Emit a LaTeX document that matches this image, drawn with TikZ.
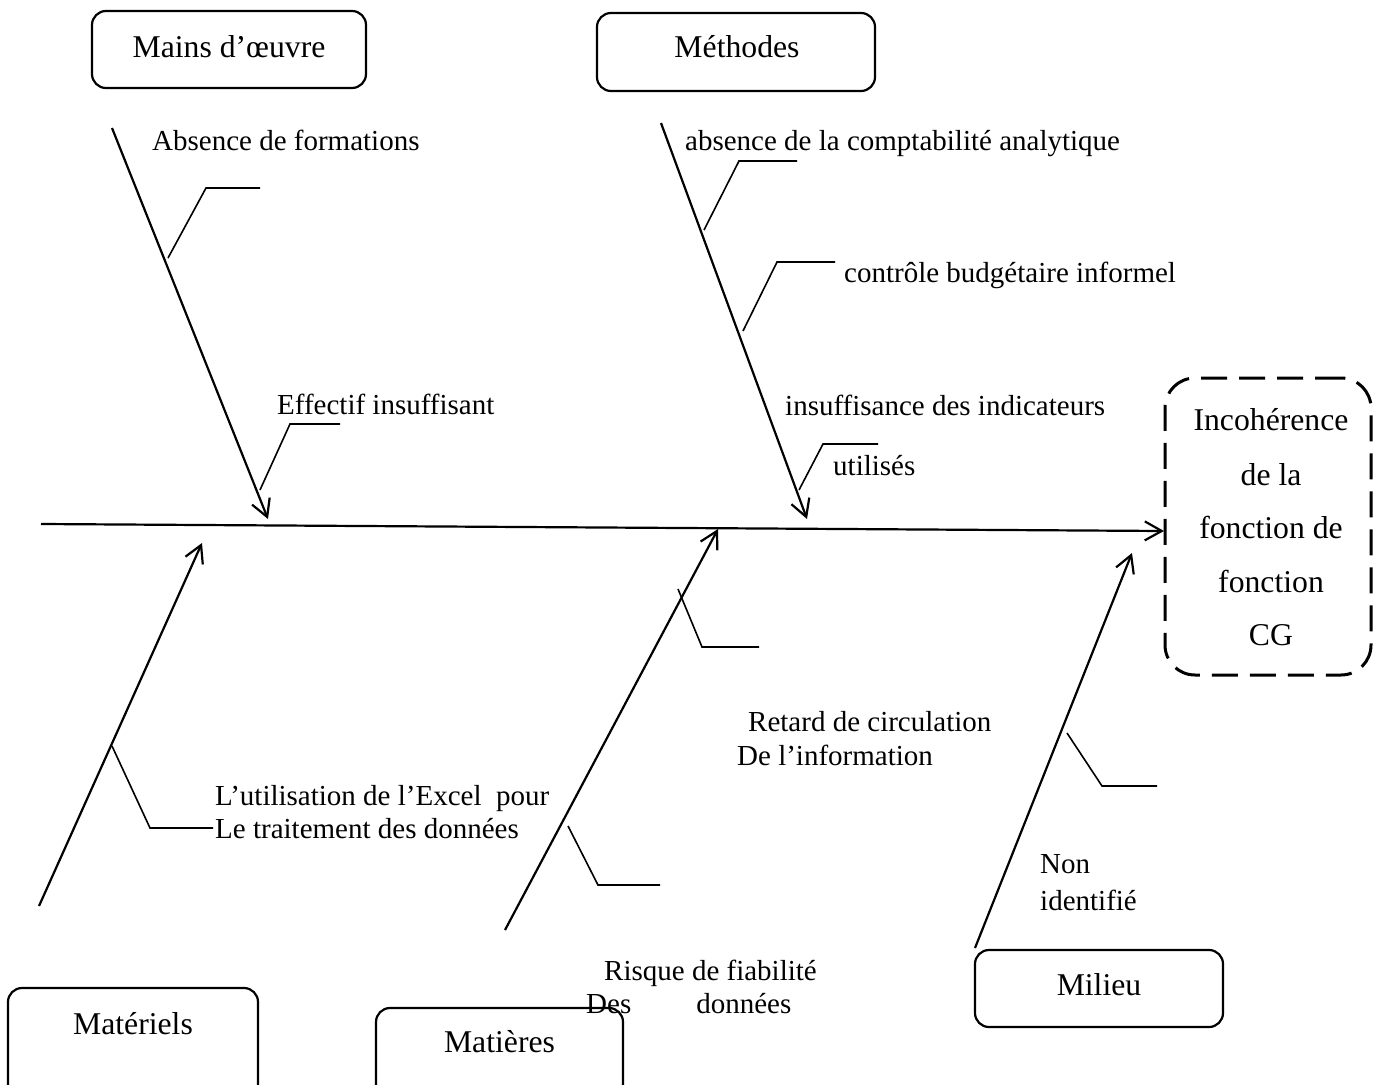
\documentclass[tikz,border=0pt]{standalone}
\usepackage{fontspec}
\setmainfont{Liberation Serif}
\usetikzlibrary{arrows.meta}
\begin{document}
\begin{tikzpicture}[x=1pt,y=-1pt,
  catbox/.style={draw,line width=2.2pt,rounded corners=14pt,inner sep=0pt},
  effectbox/.style={draw,line width=3pt,rounded corners=30pt,dash pattern=on 26pt off 12pt,inner sep=0pt},
  bone/.style={line width=2.2pt,-{Straight Barb[length=17pt,width=19pt,line width=2.2pt]}},
  twig/.style={line width=1.6pt},
  txt/.style={anchor=base west,inner sep=0pt,font=\fontsize{29}{35}\selectfont},
  ctxt/.style={anchor=base,inner sep=0pt,font=\fontsize{31.7}{38}\selectfont},
]
\useasboundingbox (0,0) rectangle (1373,1084);
\clip (0,0) rectangle (1373,1084);

% category boxes
\node[catbox,minimum width=274pt,minimum height=77pt] (mo) at (229,49.5) {};
\node[ctxt] (molbl) at (229,57) {Mains d’œuvre};
\node[catbox,minimum width=278pt,minimum height=78pt] (meth) at (736,52) {};
\node[ctxt] (methlbl) at (737,57) {Méthodes};
\node[catbox,minimum width=250pt,minimum height=124pt] (mat) at (133,1050) {};
\node[ctxt] (matlbl) at (133,1034) {Matériels};
\node[catbox,minimum width=247pt,minimum height=110pt] (mtr) at (499.5,1063) {};
\node[ctxt] (mtrlbl) at (499.5,1052) {Matières};
\node[catbox,minimum width=248pt,minimum height=77pt] (mil) at (1099,988.5) {};
\node[ctxt] (millbl) at (1099,995) {Milieu};

% effect box
\node[effectbox,minimum width=206pt,minimum height=297pt] (eff) at (1268,526.5) {};
\node[ctxt] (eff1) at (1271,430) {Incohérence};
\node[ctxt] (eff2) at (1271,485) {de la};
\node[ctxt] (eff3) at (1271,538) {fonction de};
\node[ctxt] (eff4) at (1271,592) {fonction};
\node[ctxt] (eff5) at (1271,645) {CG};

% spine
\coordinate (tail) at (41,524);
\coordinate (head) at (1164,531);
\draw[bone] (tail) -- (head);

% main bones
\coordinate (moA) at (112,128);   \coordinate (moB) at (268,519);
\coordinate (meA) at (661,123);   \coordinate (meB) at (807,519);
\coordinate (maA) at (39,906);    \coordinate (maB) at (202,543);
\coordinate (mtA) at (505,930);   \coordinate (mtB) at (718,529);
\coordinate (miA) at (975,948);   \coordinate (miB) at (1132,553);
\draw[bone] (moA) -- (moB);
\draw[bone] (meA) -- (meB);
\draw[bone] (maA) -- (maB);
\draw[bone] (mtA) -- (mtB);
\draw[bone] (miA) -- (miB);

% sub-causes
\draw[twig] (168,258) -- (206,188) -- (260,188);
\draw[twig] (260,490) -- (290,424) -- (340,424);
\draw[twig] (704,230) -- (739,161) -- (797,161);
\draw[twig] (743,331) -- (777,262) -- (835,262);
\draw[twig] (799,490) -- (823,444) -- (878,444);
\draw[twig] (112,746) -- (150,828) -- (213,828);
\draw[twig] (678,589) -- (702,647) -- (759,647);
\draw[twig] (568,826) -- (598,885) -- (660,885);
\draw[twig] (1067,733) -- (1102,786) -- (1157,786);

% labels
\node[txt] (t1) at (152,150) {Absence de formations};
\node[txt] (t2) at (277,414) {Effectif insuffisant};
\node[txt] (t3) at (685,150) {absence de la comptabilité analytique};
\node[txt] (t4) at (844,282) {contrôle budgétaire informel};
\node[txt] (t5) at (785,415) {insuffisance des indicateurs};
\node[txt] (t6) at (833,475) {utilisés};
\node[txt] (t7) at (215,805) {L’utilisation de l’Excel\ \ pour};
\node[txt] (t8) at (215,838) {Le traitement des données};
\node[txt] (t9) at (748,731) {Retard de circulation};
\node[txt] (t10) at (737,765) {De l’information};
\node[txt] (t11) at (1040,873) {Non};
\node[txt] (t12) at (1040,910) {identifié};
\node[txt] (t13) at (604,980) {Risque de fiabilité};
\node[txt] (t14) at (586,1013) {Des\hspace{65pt}données};
\end{tikzpicture}
\end{document}
